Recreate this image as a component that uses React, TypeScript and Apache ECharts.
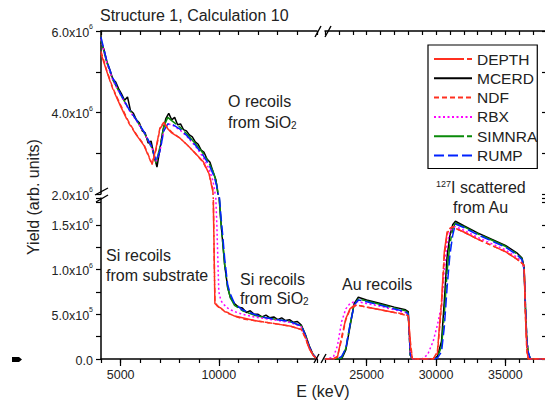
import React, { useEffect, useRef } from 'react';
import * as echarts from 'echarts';

const FONT = '"Liberation Sans", Arial, Helvetica, sans-serif';
const TEXT = '#222';

const METHODS = ['DEPTH', 'MCERD', 'NDF', 'RBX', 'SIMNRA', 'RUMP'];
const DRAW_ORDER = ['MCERD', 'SIMNRA', 'RBX', 'RUMP', 'NDF', 'DEPTH'];

// ---- left energy panel (keV): O recoils and Si recoils; yields in units of 1e6 ----
const E_LEFT = [4000, 4300, 4600, 5000, 5400, 5800, 6200, 6600, 6800, 7000, 7200, 7400, 7600, 8000, 8400, 8800, 9200, 9500, 9700, 9800, 9900, 10000, 10100, 10200, 10300, 10450, 10600, 10800, 11200, 11800, 12400, 13000, 13600, 14200, 14400, 14600, 14800, 15000];
const DEPTH_LEFT = [5.45, 5.0, 4.58, 4.15, 3.75, 3.45, 3.18, 2.72, 3.12, 3.62, 3.76, 3.6, 3.5, 3.38, 3.2, 3.0, 2.8, 2.5, 2.05, 0.62, 0.6, 0.58, 0.57, 0.55, 0.53, 0.52, 0.5, 0.48, 0.46, 0.43, 0.41, 0.39, 0.37, 0.33, 0.24, 0.12, 0.04, 0];
const NDF_LEFT = [5.5, 5.02, 4.6, 4.18, 3.78, 3.46, 3.2, 2.74, 3.08, 3.6, 3.74, 3.62, 3.52, 3.38, 3.2, 3.0, 2.78, 2.5, 2.1, 0.66, 0.6, 0.58, 0.56, 0.55, 0.53, 0.51, 0.5, 0.48, 0.45, 0.43, 0.41, 0.39, 0.37, 0.33, 0.24, 0.12, 0.04, 0];
const RBX_LEFT = [5.8, 5.22, 4.8, 4.42, 4.08, 3.8, 3.5, 3.12, 2.8, 3.05, 3.55, 3.72, 3.7, 3.58, 3.4, 3.18, 2.9, 2.62, 2.32, 2.05, 1.5, 0.75, 0.66, 0.62, 0.6, 0.57, 0.55, 0.53, 0.5, 0.47, 0.45, 0.43, 0.41, 0.36, 0.26, 0.13, 0.05, 0];
const SIMNRA_LEFT = [5.78, 5.22, 4.8, 4.44, 4.1, 3.82, 3.5, 3.12, 2.76, 3.15, 3.66, 3.88, 3.8, 3.65, 3.46, 3.24, 3.0, 2.76, 2.56, 2.42, 2.22, 1.88, 1.55, 1.3, 1.05, 0.8, 0.68, 0.6, 0.54, 0.49, 0.46, 0.44, 0.42, 0.37, 0.27, 0.14, 0.05, 0];
const RUMP_LEFT = [5.85, 5.25, 4.85, 4.45, 4.1, 3.82, 3.52, 3.15, 2.8, 3.05, 3.55, 3.72, 3.72, 3.6, 3.42, 3.2, 2.95, 2.72, 2.5, 2.36, 2.18, 1.9, 1.62, 1.38, 1.12, 0.83, 0.72, 0.62, 0.55, 0.5, 0.46, 0.44, 0.42, 0.37, 0.27, 0.14, 0.05, 0];

// MCERD (Monte Carlo, noisy) is sampled on its own, finer energy grid
const E_MCERD_LEFT = [4000, 4150, 4300, 4450, 4600, 4750, 4900, 5050, 5200, 5350, 5500, 5650, 5800, 5950, 6100, 6250, 6400, 6550, 6700, 6850, 7000, 7150, 7300, 7450, 7600, 7750, 7900, 8050, 8200, 8350, 8500, 8650, 8800, 8950, 9100, 9250, 9400, 9550, 9700, 9850, 10000, 10100, 10200, 10300, 10450, 10600, 10800, 11000, 11200, 11400, 11600, 11800, 12000, 12200, 12400, 12600, 12800, 13000, 13200, 13400, 13600, 13800, 14000, 14200, 14400, 14600, 14800, 15000];
const MCERD_LEFT = [5.72, 5.55, 5.25, 5.05, 4.82, 4.75, 4.58, 4.45, 4.3, 4.38, 4.05, 3.98, 3.82, 3.75, 3.55, 3.5, 3.25, 3.3, 2.95, 2.66, 3.1, 3.55, 3.85, 3.98, 3.82, 3.88, 3.7, 3.72, 3.58, 3.55, 3.45, 3.4, 3.28, 3.22, 3.08, 3.02, 2.86, 2.78, 2.55, 2.35, 1.85, 1.55, 1.3, 1.05, 0.8, 0.68, 0.62, 0.58, 0.57, 0.52, 0.54, 0.5, 0.5, 0.47, 0.49, 0.46, 0.47, 0.44, 0.46, 0.43, 0.44, 0.41, 0.42, 0.38, 0.28, 0.15, 0.05, 0];

// ---- right energy panel (keV): Au recoils and 127I scattered from Au ----
const E_RIGHT = [22000, 22600, 22900, 23200, 23500, 23800, 24100, 24400, 25000, 26000, 27000, 27800, 28000, 28150, 28300, 29000, 29400, 29800, 30100, 30400, 30600, 30800, 31000, 31200, 31400, 32000, 33000, 34000, 35000, 35800, 36200, 36350, 36450, 36550, 36650, 36800, 38000];
const DEPTH_RIGHT = [0, 0, 0.02, 0.25, 0.45, 0.56, 0.6, 0.6, 0.58, 0.55, 0.52, 0.49, 0.48, 0.2, 0, 0, 0, 0, 0.08, 0.65, 1.2, 1.42, 1.46, 1.48, 1.46, 1.42, 1.34, 1.27, 1.2, 1.12, 1.07, 1.05, 0.5, 0.1, 0, 0, 0];
const MCERD_RIGHT = [0, 0, 0, 0, 0.1, 0.36, 0.62, 0.69, 0.66, 0.62, 0.58, 0.55, 0.53, 0.04, 0, 0, 0, 0, 0.03, 0.2, 0.65, 1.15, 1.38, 1.5, 1.54, 1.49, 1.41, 1.34, 1.27, 1.19, 1.13, 1.02, 0.55, 0.2, 0.06, 0, 0];
const NDF_RIGHT = [0, 0, 0.03, 0.22, 0.44, 0.55, 0.59, 0.6, 0.58, 0.55, 0.52, 0.5, 0.48, 0.15, 0, 0, 0, 0, 0.06, 0.6, 1.15, 1.4, 1.46, 1.48, 1.46, 1.42, 1.34, 1.27, 1.2, 1.12, 1.07, 1.04, 0.45, 0.08, 0, 0, 0];
const RBX_RIGHT = [0, 0.02, 0.15, 0.42, 0.56, 0.62, 0.64, 0.64, 0.62, 0.59, 0.55, 0.52, 0.5, 0.05, 0, 0, 0.05, 0.2, 0.38, 0.6, 1.0, 1.3, 1.42, 1.47, 1.48, 1.44, 1.36, 1.29, 1.22, 1.14, 1.09, 1.0, 0.55, 0.15, 0.05, 0, 0];
const SIMNRA_RIGHT = [0, 0, 0, 0.01, 0.12, 0.38, 0.61, 0.67, 0.65, 0.61, 0.57, 0.54, 0.51, 0.04, 0, 0, 0, 0, 0.02, 0.14, 0.5, 0.98, 1.28, 1.45, 1.52, 1.48, 1.4, 1.33, 1.26, 1.18, 1.12, 1.0, 0.58, 0.2, 0.07, 0, 0];
const RUMP_RIGHT = [0, 0, 0, 0.03, 0.12, 0.38, 0.6, 0.66, 0.64, 0.6, 0.56, 0.53, 0.5, 0.05, 0, 0, 0, 0, 0.01, 0.08, 0.36, 0.8, 1.16, 1.38, 1.51, 1.47, 1.39, 1.32, 1.25, 1.17, 1.11, 1.0, 0.6, 0.2, 0.08, 0, 0];

// ---- tick labels ----
const X_LABELS_LEFT = [5000, 10000];
const X_LABELS_RIGHT = [25000, 30000, 35000];
const Y_LABELS_UPPER = [2, 4, 6];
const Y_LABELS_LOWER = [0, 0.5, 1, 1.5];

const LEFT_E: Record<string, number[]> = {
  DEPTH: E_LEFT, MCERD: E_MCERD_LEFT, NDF: E_LEFT, RBX: E_LEFT, SIMNRA: E_LEFT, RUMP: E_LEFT,
};
const LEFT_DATA: Record<string, number[]> = {
  DEPTH: DEPTH_LEFT, MCERD: MCERD_LEFT, NDF: NDF_LEFT, RBX: RBX_LEFT, SIMNRA: SIMNRA_LEFT, RUMP: RUMP_LEFT,
};
const RIGHT_DATA: Record<string, number[]> = {
  DEPTH: DEPTH_RIGHT, MCERD: MCERD_RIGHT, NDF: NDF_RIGHT, RBX: RBX_RIGHT, SIMNRA: SIMNRA_RIGHT, RUMP: RUMP_RIGHT,
};

const LINE_STYLE: Record<string, { color: string; type: any; width: number }> = {
  DEPTH: { color: '#ff3020', type: [30, 3, 5, 3], width: 1.5 },
  MCERD: { color: '#000000', type: 'solid', width: 1.5 },
  NDF: { color: '#ff3020', type: [5, 3], width: 1.5 },
  RBX: { color: '#ff00ff', type: [2, 2.5], width: 1.5 },
  SIMNRA: { color: '#0a8a0a', type: [30, 3, 5, 3], width: 1.5 },
  RUMP: { color: '#0022ff', type: [10, 4], width: 1.5 },
};

const AXIS_LINE = { show: true, onZero: false, lineStyle: { color: '#000', width: 1.5 } };
const TICK_STYLE = { color: '#000', width: 1.2 };

const near = (v: number, list: number[]) => list.some((t) => Math.abs(t - v) < 1e-6);

const yLabel = (list: number[]) => (v: number) => {
  if (!near(v, list)) return '';
  if (Math.abs(v) < 1e-9) return '{m|0.0}';
  if (v < 1) return `{m|${(v * 10).toFixed(1)}x10}{s|5}`;
  return `{m|${v.toFixed(1)}x10}{s|6}`;
};

const Y_RICH = {
  m: { fontSize: 12.5, fontFamily: FONT, color: TEXT, lineHeight: 16, verticalAlign: 'bottom' },
  s: { fontSize: 7, fontFamily: FONT, color: TEXT, lineHeight: 8, verticalAlign: 'top' },
};

const xLabel = (list: number[]) => (v: number) => (near(v, list) ? String(v) : '');

const TEXT_RICH = {
  m: { fontSize: 16, fontFamily: FONT, fill: TEXT, lineHeight: 16, verticalAlign: 'top' },
  b: { fontSize: 10, fontFamily: FONT, fill: TEXT, lineHeight: 6, verticalAlign: 'bottom' },
  s: { fontSize: 9, fontFamily: FONT, fill: TEXT, lineHeight: 6, verticalAlign: 'top' },
  n: { fontSize: 16, fontFamily: FONT, fill: TEXT, lineHeight: 16, verticalAlign: 'bottom' },
};

function label(x: number, y: number, text: string, extra: any = {}) {
  return {
    type: 'text',
    x,
    y,
    z: 100,
    style: {
      text,
      rich: TEXT_RICH,
      fontSize: 16,
      fontFamily: FONT,
      fill: TEXT,
      align: 'left',
      verticalAlign: 'middle',
      ...extra,
    },
  };
}

function seg(x1: number, y1: number, x2: number, y2: number) {
  return {
    type: 'line',
    z: 100,
    shape: { x1, y1, x2, y2 },
    style: { stroke: '#000', lineWidth: 1.4 },
  };
}

function buildOption() {
  const series: any[] = [];
  DRAW_ORDER.forEach((m) => {
    const st = LINE_STYLE[m];
    const left = LEFT_E[m].map((e, i) => [e, LEFT_DATA[m][i]]);
    const right = E_RIGHT.map((e, i) => [e, RIGHT_DATA[m][i]]);
    const base = {
      name: m,
      type: 'line',
      symbol: 'none',
      clip: true,
      lineStyle: { color: st.color, type: st.type, width: st.width },
      itemStyle: { color: st.color },
      emphasis: { disabled: true },
    };
    series.push({ ...base, xAxisIndex: 0, yAxisIndex: 0, data: left });
    series.push({ ...base, xAxisIndex: 4, yAxisIndex: 2, data: left });
    series.push({ ...base, xAxisIndex: 5, yAxisIndex: 3, data: right });
  });

  const xBase = (gridIndex: number, min: number, max: number) => ({
    type: 'value',
    gridIndex,
    min,
    max,
    interval: 1000,
    splitLine: { show: false },
  });
  const yBase = (gridIndex: number, min: number, max: number, interval: number) => ({
    type: 'value',
    gridIndex,
    min,
    max,
    interval,
    splitLine: { show: false },
  });

  return {
    animation: false,
    backgroundColor: '#fff',
    textStyle: { fontFamily: FONT },
    grid: [
      { left: 101, top: 31, width: 216, height: 163, containLabel: false, outerBoundsMode: 'none' },
      { left: 325, top: 31, width: 222, height: 163, containLabel: false, outerBoundsMode: 'none' },
      { left: 101, top: 198, width: 216, height: 161, containLabel: false, outerBoundsMode: 'none' },
      { left: 325, top: 198, width: 222, height: 161, containLabel: false, outerBoundsMode: 'none' },
    ],
    xAxis: [
      { ...xBase(0, 4000, 15000), position: 'bottom', show: false },
      {
        ...xBase(0, 4000, 15000), position: 'top', axisLine: AXIS_LINE,
        axisTick: { show: true, inside: true, length: 4, lineStyle: TICK_STYLE }, axisLabel: { show: false },
      },
      { ...xBase(1, 22000, 38000), position: 'bottom', show: false },
      {
        ...xBase(1, 22000, 38000), position: 'top', axisLine: AXIS_LINE,
        axisTick: { show: true, inside: true, length: 4, lineStyle: TICK_STYLE }, axisLabel: { show: false },
      },
      {
        ...xBase(2, 4000, 15000), position: 'bottom', axisLine: AXIS_LINE,
        axisTick: { show: true, inside: false, length: 4, lineStyle: TICK_STYLE },
        axisLabel: { show: true, margin: 9, fontSize: 12.5, fontFamily: FONT, color: TEXT, formatter: xLabel(X_LABELS_LEFT) },
      },
      {
        ...xBase(3, 22000, 38000), position: 'bottom', axisLine: AXIS_LINE,
        axisTick: { show: true, inside: false, length: 4, lineStyle: TICK_STYLE },
        axisLabel: { show: true, margin: 9, fontSize: 12.5, fontFamily: FONT, color: TEXT, formatter: xLabel(X_LABELS_RIGHT) },
      },
      {
        ...xBase(2, 4000, 15000), position: 'bottom', axisLine: { show: false },
        axisTick: { show: true, length: 7, lineStyle: TICK_STYLE, customValues: X_LABELS_LEFT }, axisLabel: { show: false },
      },
      {
        ...xBase(3, 22000, 38000), position: 'bottom', axisLine: { show: false },
        axisTick: { show: true, length: 7, lineStyle: TICK_STYLE, customValues: X_LABELS_RIGHT }, axisLabel: { show: false },
      },
    ],
    yAxis: [
      {
        ...yBase(0, 2, 6, 1), position: 'left', axisLine: AXIS_LINE,
        axisTick: { show: true, inside: false, length: 5, lineStyle: TICK_STYLE },
        axisLabel: { show: true, margin: 8, formatter: yLabel(Y_LABELS_UPPER), rich: Y_RICH },
      },
      {
        ...yBase(1, 2, 6, 1), position: 'right', axisLine: AXIS_LINE,
        axisTick: { show: true, inside: true, length: 5, lineStyle: TICK_STYLE }, axisLabel: { show: false },
      },
      {
        ...yBase(2, 0, 1.8, 0.25), position: 'left', axisLine: AXIS_LINE,
        axisTick: { show: true, inside: false, length: 5, lineStyle: TICK_STYLE },
        axisLabel: { show: true, margin: 8, formatter: yLabel(Y_LABELS_LOWER), rich: Y_RICH },
      },
      {
        ...yBase(3, 0, 1.8, 0.25), position: 'right', axisLine: AXIS_LINE,
        axisTick: { show: true, inside: true, length: 5, lineStyle: TICK_STYLE }, axisLabel: { show: false },
      },
    ],
    legend: {
      data: METHODS,
      orient: 'vertical',
      left: 428,
      top: 45,
      itemWidth: 38,
      itemHeight: 14,
      itemGap: 3.3,
      padding: [6, 0, 5, 5],
      borderColor: '#000',
      borderWidth: 1.2,
      backgroundColor: '#fff',
      selectedMode: false,
      itemStyle: { opacity: 0 },
      textStyle: { fontFamily: FONT, fontSize: 15.5, color: TEXT, lineHeight: 16 },
    },
    graphic: [
      label(100, 15, 'Structure 1, Calculation 10'),
      {
        type: 'text', x: 33, y: 197, rotation: Math.PI / 2, z: 100,
        style: { text: 'Yield (arb. units)', fontSize: 16, fontFamily: FONT, fill: TEXT, align: 'center', verticalAlign: 'middle' },
      },
      label(323, 391, 'E (keV)', { align: 'center' }),
      label(228, 101, 'O recoils'),
      label(228, 122, '{m|from SiO}{b|2}'),
      label(106, 255, 'Si recoils'),
      label(106, 275, 'from substrate'),
      label(240, 279, 'Si recoils'),
      label(240, 298, '{m|from SiO}{b|2}'),
      label(342, 284, 'Au recoils'),
      label(436, 187, '{s|127}{n|I scattered}'),
      label(453, 207, 'from Au'),
      // axis breaks
      seg(95, 195, 108, 188),
      seg(96, 202, 108, 195),
      seg(314, 363, 319, 354),
      seg(321, 363, 326, 354),
      seg(315, 37, 321, 26),
      seg(325, 37, 331, 26),
      {
        type: 'polygon', z: 100,
        shape: { points: [[12, 357], [19, 357], [22, 359.5], [19, 362], [12, 362]] },
        style: { fill: '#000' },
      },
    ],
    series,
  };
}

export default function App() {
  const ref = useRef<HTMLDivElement>(null);
  useEffect(() => {
    if (!ref.current) return;
    const chart = echarts.init(ref.current, null, { renderer: 'svg' });
    chart.setOption(buildOption() as any);
    return () => chart.dispose();
  }, []);
  return (
    <div
      ref={ref}
      style={{ position: 'absolute', left: 0, top: 0, width: 545, height: 403, background: '#fff' }}
    />
  );
}
